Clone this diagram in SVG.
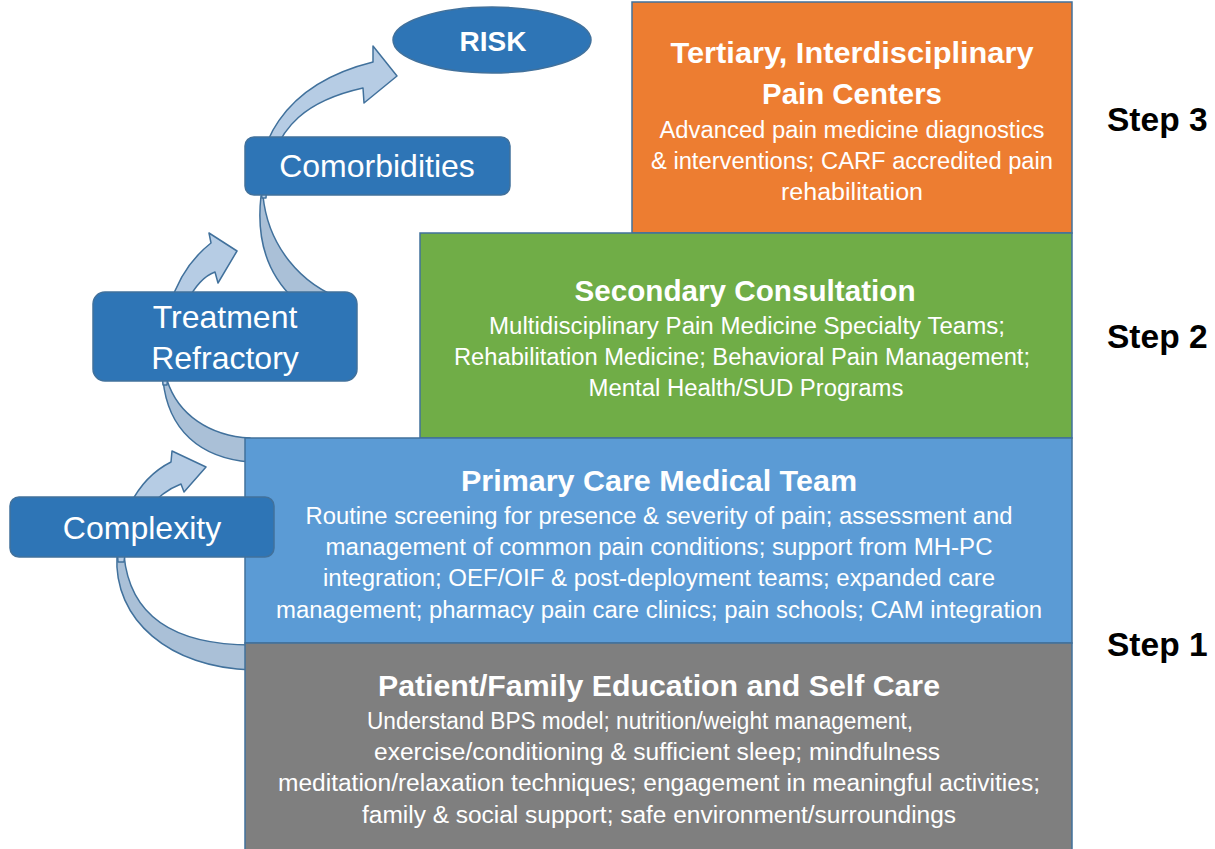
<svg xmlns="http://www.w3.org/2000/svg" width="1215" height="849" viewBox="0 0 1215 849">
<style>
.bg{fill:#ffffff}
.arrF{fill:#b6cce4;stroke:#41719c;stroke-width:1.5;stroke-linejoin:round}
.arrB{fill:#aac0d7;stroke:#41719c;stroke-width:1.5;stroke-linejoin:round}
.tier{stroke:#41719c;stroke-width:1.5}
.node{fill:#2e75b6;stroke:#41719c;stroke-width:1.5}
.title{font-family:"Liberation Sans",Arial,sans-serif;font-weight:bold;font-size:30px;fill:#ffffff;text-anchor:middle}
.body{font-family:"Liberation Sans",Arial,sans-serif;font-size:23px;fill:#ffffff;text-anchor:middle}
.ntext{font-family:"Liberation Sans",Arial,sans-serif;font-size:32px;fill:#ffffff;text-anchor:middle}
.step{font-family:"Liberation Sans",Arial,sans-serif;font-weight:bold;font-size:33.5px;fill:#000000}
</style>
<rect class="bg" x="0" y="0" width="1215" height="849"/>
<g id="connectors">
  <!-- Arrow A: Complexity -->
  <path class="arrB" d="M117,555 C113,620 170,668 252,670 L252,645 C180,645 130,620 124,555 Z"/>
  <path class="arrF" d="M118,562 C115,525 135,480 171,462 L172,451 L206,467 L184,492 L181,484 C160,492 128,520 124,562 Z"/>
  <!-- Arrow B: Treatment Refractory -->
  <path class="arrB" d="M163,380 C168,430 200,458 250,462 L250,438 C210,436 178,415 167,380 Z"/>
  <path class="arrF" d="M163,385 C158,330 170,275 211,243 L209,233 L237,251 L218,283 L215,272 C198,278 172,310 167,385 Z"/>
  <!-- Arrow C: Comorbidities -->
  <path class="arrB" d="M261,196 C256,240 268,275 295,300 L345,300 C300,285 268,245 263,196 Z"/>
  <path class="arrF" d="M262,198 C252,150 280,85 373,62 L373,46 L397,76 L364,103 L363,88 C318,98 268,120 266,198 Z"/>
</g>
<g id="tier-tertiary">
  <rect class="tier" x="632" y="2" width="440" height="231" fill="#ed7d31"/>
  <text class="title" x="852" y="63" textLength="363" lengthAdjust="spacingAndGlyphs">Tertiary, Interdisciplinary</text>
  <text class="title" x="852" y="104" textLength="180" lengthAdjust="spacingAndGlyphs">Pain Centers</text>
  <text class="body" x="852" y="138" textLength="385" lengthAdjust="spacingAndGlyphs">Advanced pain medicine diagnostics</text>
  <text class="body" x="852" y="169" textLength="402" lengthAdjust="spacingAndGlyphs">&amp; interventions; CARF accredited pain</text>
  <text class="body" x="852" y="200" textLength="142" lengthAdjust="spacingAndGlyphs">rehabilitation</text>
</g>
<g id="tier-secondary">
  <rect class="tier" x="420" y="233" width="652" height="205" fill="#70ad47"/>
  <text class="title" x="745" y="301" textLength="341" lengthAdjust="spacingAndGlyphs">Secondary Consultation</text>
  <text class="body" x="747" y="334" textLength="516" lengthAdjust="spacingAndGlyphs">Multidisciplinary Pain Medicine Specialty Teams;</text>
  <text class="body" x="742" y="365" textLength="576" lengthAdjust="spacingAndGlyphs">Rehabilitation Medicine; Behavioral Pain Management;</text>
  <text class="body" x="746" y="396" textLength="315" lengthAdjust="spacingAndGlyphs">Mental Health/SUD Programs</text>
</g>
<g id="tier-primary">
  <rect class="tier" x="245" y="438" width="827" height="205" fill="#5b9bd5"/>
  <text class="title" x="659" y="491" textLength="396" lengthAdjust="spacingAndGlyphs">Primary Care Medical Team</text>
  <text class="body" x="659" y="524" textLength="707" lengthAdjust="spacingAndGlyphs">Routine screening for presence &amp; severity of pain; assessment and</text>
  <text class="body" x="659" y="555" textLength="667" lengthAdjust="spacingAndGlyphs">management of common pain conditions; support from MH-PC</text>
  <text class="body" x="659" y="586" textLength="672" lengthAdjust="spacingAndGlyphs">integration; OEF/OIF &amp; post-deployment teams; expanded care</text>
  <text class="body" x="659" y="618" textLength="766" lengthAdjust="spacingAndGlyphs">management; pharmacy pain care clinics; pain schools; CAM integration</text>
</g>
<g id="tier-selfcare">
  <rect class="tier" x="245" y="643" width="827" height="210" fill="#7f7f7f"/>
  <text class="title" x="659" y="696" textLength="562" lengthAdjust="spacingAndGlyphs">Patient/Family Education and Self Care</text>
  <text class="body" x="640" y="729" textLength="546" lengthAdjust="spacingAndGlyphs">Understand BPS model; nutrition/weight management,</text>
  <text class="body" x="657" y="760" textLength="566" lengthAdjust="spacingAndGlyphs">exercise/conditioning &amp; sufficient sleep; mindfulness</text>
  <text class="body" x="659" y="791" textLength="762" lengthAdjust="spacingAndGlyphs">meditation/relaxation techniques; engagement in meaningful activities;</text>
  <text class="body" x="659" y="823" textLength="594" lengthAdjust="spacingAndGlyphs">family &amp; social support; safe environment/surroundings</text>
</g>
<g id="node-risk">
  <ellipse class="node" cx="492" cy="40" rx="99" ry="33"/>
  <text class="title" x="493" y="51" style="font-size:28px">RISK</text>
</g>
<g id="node-comorbidities">
  <rect class="node" x="245" y="137" width="265" height="58" rx="9"/>
  <text class="ntext" x="377" y="177">Comorbidities</text>
</g>
<g id="node-treatment-refractory">
  <rect class="node" x="93" y="292" width="264" height="89" rx="12"/>
  <text class="ntext" x="225" y="328">Treatment</text>
  <text class="ntext" x="225" y="369">Refractory</text>
</g>
<g id="node-complexity">
  <rect class="node" x="10" y="497" width="264" height="60" rx="9"/>
  <text class="ntext" x="142" y="539">Complexity</text>
</g>
<g id="step-labels">
  <text class="step" x="1107" y="131">Step 3</text>
  <text class="step" x="1107" y="348">Step 2</text>
  <text class="step" x="1107" y="656">Step 1</text>
</g>
</svg>
